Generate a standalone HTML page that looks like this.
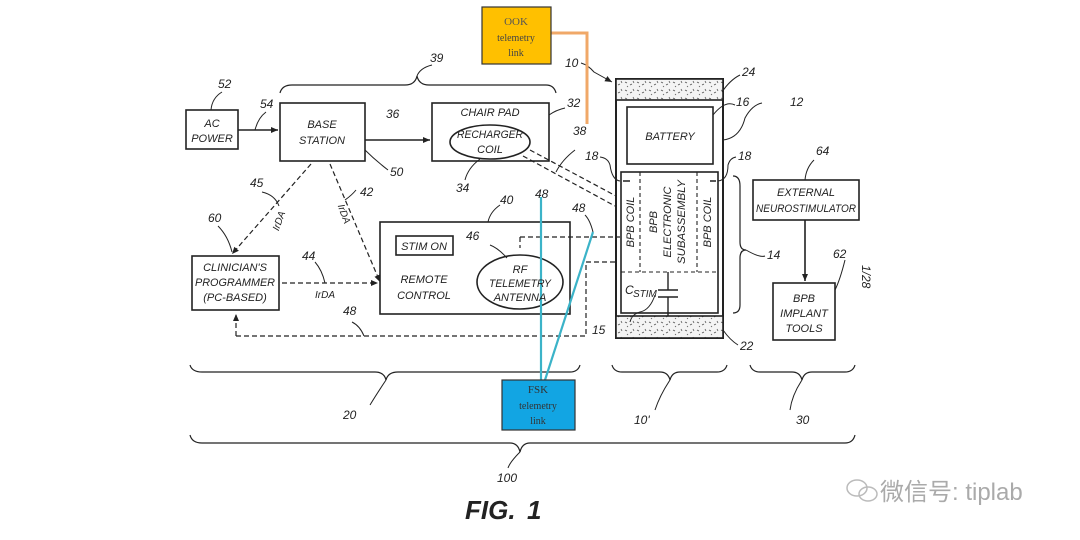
<!DOCTYPE html>
<html><head><meta charset="utf-8"><style>
html,body{margin:0;padding:0;background:#fff;}
svg{display:block}
text{font-family:"Liberation Sans",sans-serif;font-style:italic;fill:#222;}
.l{font-size:11px;text-anchor:middle}
.n{font-size:12px}
</style></head><body>
<svg width="1080" height="540" viewBox="0 0 1080 540" xmlns="http://www.w3.org/2000/svg">
<defs>
<marker id="a" markerWidth="8" markerHeight="8" refX="7" refY="4" orient="auto" markerUnits="userSpaceOnUse"><path d="M0,1 L7,4 L0,7 z" fill="#222"/></marker>
<pattern id="sp" width="12" height="8" patternUnits="userSpaceOnUse"><rect width="12" height="8" fill="#f4f4f4"/><path d="M1,2 l2,1 M6,5 l2,-1 M9,1 l1,2 M3,6 l1,1" stroke="#555" stroke-width="0.8"/></pattern>
</defs>
<g fill="none" stroke="#222" stroke-width="1.6">
<rect x="186" y="110" width="52" height="39"/>
<rect x="280" y="103" width="85" height="58"/>
<rect x="432" y="103" width="117" height="58"/>
<ellipse cx="490" cy="142" rx="40" ry="17"/>
<rect x="192" y="256" width="87" height="54"/>
<rect x="380" y="222" width="190" height="92"/>
<rect x="396" y="236" width="57" height="19"/>
<ellipse cx="520" cy="282" rx="43" ry="27"/>
<rect x="753" y="180" width="106" height="40"/>
<rect x="773" y="283" width="62" height="57"/>
<rect x="616" y="79" width="107" height="259" stroke-width="2"/>
<rect x="616" y="79" width="107" height="21" fill="url(#sp)"/>
<rect x="616" y="316" width="107" height="22" fill="url(#sp)"/>
<rect x="627" y="107" width="86" height="57"/>
<rect x="621" y="172" width="97" height="141"/>
<path d="M640,172 V272 M697,172 V272 M621,272 H718" stroke-dasharray="4,3" stroke-width="1.1"/>
<path d="M668,272 V290 M658,290 H678 M658,297 H678 M668,297 V316" stroke-width="1.4"/>
<path d="M623,181 H630 M710,181 H716" />
<path d="M238,130 H278" marker-end="url(#a)"/>
<path d="M365,140 H430" marker-end="url(#a)"/>
<path d="M805,220 V281" marker-end="url(#a)"/>
<g stroke-dasharray="5,3" stroke-width="1.2">
<path d="M311,164 L232,254" marker-end="url(#a)"/>
<path d="M330,164 L380,282" marker-end="url(#a)"/>
<path d="M282,283 H378" marker-end="url(#a)"/>
<path d="M236,336 H586 V262 H618"/>
<path d="M236,336 V314" marker-end="url(#a)"/>
<path d="M520,237 H620 M520,237 V248"/>
<path d="M530,150 L616,196 M523,156 L615,206"/>
</g>
<path d="M280,93 Q282,85 292,85 H405 Q415,85 417,76 Q419,85 429,85 H546 Q554,85 556,93" stroke-width="1.2"/>
<path d="M190,365 Q192,372 202,372 H375 Q384,372 386,380 Q388,372 398,372 H570 Q578,372 580,365" stroke-width="1.2"/>
<path d="M612,365 Q614,372 622,372 H660 Q668,372 670,380 Q672,372 680,372 H717 Q725,372 727,365" stroke-width="1.2"/>
<path d="M750,365 Q752,372 760,372 H792 Q800,372 802,380 Q804,372 812,372 H845 Q853,372 855,365" stroke-width="1.2"/>
<path d="M190,435 Q192,443 202,443 H510 Q518,443 520,452 Q522,443 530,443 H845 Q853,443 855,435" stroke-width="1.2"/>
<path d="M733,176 Q740,176 740,186 V242 Q740,250 746,250 Q740,250 740,258 V305 Q740,313 733,313" stroke-width="1.2"/>
<g stroke-width="1">
<path d="M417,76 Q420,68 432,65"/>
<path d="M211,110 Q212,98 222,92"/>
<path d="M255,130 Q258,118 266,112"/>
<path d="M549,115 Q556,110 565,108"/>
<path d="M365,150 Q375,160 388,170"/>
<path d="M480,159 Q468,168 465,180"/>
<path d="M386,380 Q376,395 370,405"/>
<path d="M670,380 Q660,395 655,410"/>
<path d="M802,380 Q792,395 790,410"/>
<path d="M520,452 Q510,462 508,468"/>
<path d="M722,92 Q730,80 740,75"/>
<path d="M713,115 Q725,100 735,105"/>
<path d="M723,140 Q740,138 745,118 Q752,105 762,103"/>
<path d="M746,250 Q760,258 765,256"/>
<path d="M805,180 Q806,168 814,160"/>
<path d="M835,290 Q840,280 845,260"/>
<path d="M620,181 Q612,180 610,165 Q608,158 600,157"/>
<path d="M718,181 Q728,180 728,165 Q730,158 736,157"/>
<path d="M655,295 Q650,310 640,312 Q632,314 630,322"/>
<path d="M723,330 Q730,340 738,345"/>
<path d="M218,226 Q228,236 232,252"/>
<path d="M262,192 Q275,195 279,206"/>
<path d="M345,200 Q352,195 356,190"/>
<path d="M488,222 Q490,212 500,205"/>
<path d="M507,258 Q498,248 490,245"/>
<path d="M325,283 Q322,270 315,262"/>
<path d="M364,336 Q360,326 352,322"/>
<path d="M593,232 Q590,220 585,215"/>
<path d="M556,172 Q562,160 575,150"/>
<path d="M581,63 Q588,65 594,72 L612,82" marker-end="url(#a)"/>
</g>
</g>
<path d="M551,33 H587 V124" fill="none" stroke="#F0A868" stroke-width="3"/>
<rect x="482" y="7" width="69" height="57" fill="#FFC000" stroke="#333" stroke-width="1.2"/>
<path d="M541,380 V197 M545,380 L593,232" fill="none" stroke="#3BB3C8" stroke-width="2.2"/>
<rect x="502" y="380" width="73" height="50" fill="#12A5E3" stroke="#333" stroke-width="1.2"/>
<text x="516" y="25" style="font-family:'Liberation Serif',serif;font-style:normal;font-size:11px;fill:#555;text-anchor:middle">OOK</text>
<text x="516" y="41" style="font-family:'Liberation Serif',serif;font-style:normal;font-size:10px;fill:#444;text-anchor:middle">telemetry</text>
<text x="516" y="56" style="font-family:'Liberation Serif',serif;font-style:normal;font-size:10px;fill:#444;text-anchor:middle">link</text>
<text x="538" y="393" style="font-family:'Liberation Serif',serif;font-style:normal;font-size:11px;fill:#333;text-anchor:middle">FSK</text>
<text x="538" y="409" style="font-family:'Liberation Serif',serif;font-style:normal;font-size:10px;fill:#333;text-anchor:middle">telemetry</text>
<text x="538" y="424" style="font-family:'Liberation Serif',serif;font-style:normal;font-size:10px;fill:#333;text-anchor:middle">link</text>
<text class="l" x="212" y="127">AC</text><text class="l" x="212" y="142">POWER</text>
<text class="l" x="322" y="128">BASE</text><text class="l" x="322" y="144">STATION</text>
<text class="l" x="490" y="116">CHAIR PAD</text>
<text class="l" x="490" y="138" textLength="66" lengthAdjust="spacingAndGlyphs">RECHARGER</text><text class="l" x="490" y="153">COIL</text>
<text class="l" x="235" y="271">CLINICIAN'S</text><text class="l" x="235" y="286" textLength="80" lengthAdjust="spacingAndGlyphs">PROGRAMMER</text><text class="l" x="235" y="301">(PC-BASED)</text>
<text class="l" x="424" y="250">STIM ON</text>
<text class="l" x="424" y="283">REMOTE</text><text class="l" x="424" y="299">CONTROL</text>
<text class="l" x="520" y="273">RF</text><text class="l" x="520" y="287" textLength="62" lengthAdjust="spacingAndGlyphs">TELEMETRY</text><text class="l" x="520" y="301">ANTENNA</text>
<text class="l" x="670" y="140">BATTERY</text>
<text class="l" x="806" y="196">EXTERNAL</text><text class="l" x="806" y="212" textLength="100" lengthAdjust="spacingAndGlyphs">NEUROSTIMULATOR</text>
<text class="l" x="804" y="302">BPB</text><text class="l" x="804" y="317">IMPLANT</text><text class="l" x="804" y="332">TOOLS</text>
<text class="l" transform="translate(634,222) rotate(-90)">BPB COIL</text>
<text class="l" transform="translate(711,222) rotate(-90)">BPB COIL</text>
<text class="l" transform="translate(657,222) rotate(-90)">BPB</text>
<text class="l" transform="translate(671,222) rotate(-90)">ELECTRONIC</text>
<text class="l" transform="translate(685,222) rotate(-90)" textLength="84" lengthAdjust="spacingAndGlyphs">SUBASSEMBLY</text>
<text x="625" y="294" style="font-size:12px">C</text><text x="633" y="297" style="font-size:10px">STIM</text>
<text class="l" style="font-size:10px" transform="translate(282,222) rotate(-70)">IrDA</text>
<text class="l" style="font-size:10px" transform="translate(341,215) rotate(70)">IrDA</text>
<text class="l" style="font-size:10px" x="325" y="298">IrDA</text>
<g class="n">
<text x="218" y="88">52</text><text x="260" y="108">54</text><text x="430" y="62">39</text>
<text x="386" y="118">36</text><text x="567" y="107">32</text><text x="573" y="135">38</text>
<text x="390" y="176">50</text><text x="456" y="192">34</text>
<text x="565" y="67">10</text><text x="742" y="76">24</text><text x="736" y="106">16</text><text x="790" y="106">12</text>
<text x="585" y="160">18</text><text x="738" y="160">18</text>
<text x="535" y="198">48</text><text x="572" y="212">48</text><text x="500" y="204">40</text>
<text x="466" y="240">46</text><text x="250" y="187">45</text><text x="360" y="196">42</text>
<text x="208" y="222">60</text><text x="302" y="260">44</text><text x="343" y="315">48</text>
<text x="592" y="334">15</text><text x="740" y="350">22</text><text x="767" y="259">14</text>
<text x="816" y="155">64</text><text x="833" y="258">62</text>
<text x="343" y="419">20</text><text x="634" y="424">10'</text><text x="796" y="424">30</text>
<text x="497" y="482">100</text>
</g>
<text transform="translate(862,265) rotate(90)" style="font-size:12px">1/28</text>
<text x="465" y="519" style="font-size:26px;font-weight:bold">FIG.</text>
<text x="527" y="519" style="font-size:26px;font-weight:bold">1</text>
<g fill="none" stroke="#bbb" stroke-width="1.5"><ellipse cx="857" cy="488" rx="10" ry="8"/><ellipse cx="868" cy="494" rx="9" ry="7"/></g>
<text x="880" y="500" style="font-family:'Liberation Sans','Noto Sans CJK SC',sans-serif;font-style:normal;font-size:24px;fill:#aaa">微信号: tiplab</text>
</svg>
</body></html>
